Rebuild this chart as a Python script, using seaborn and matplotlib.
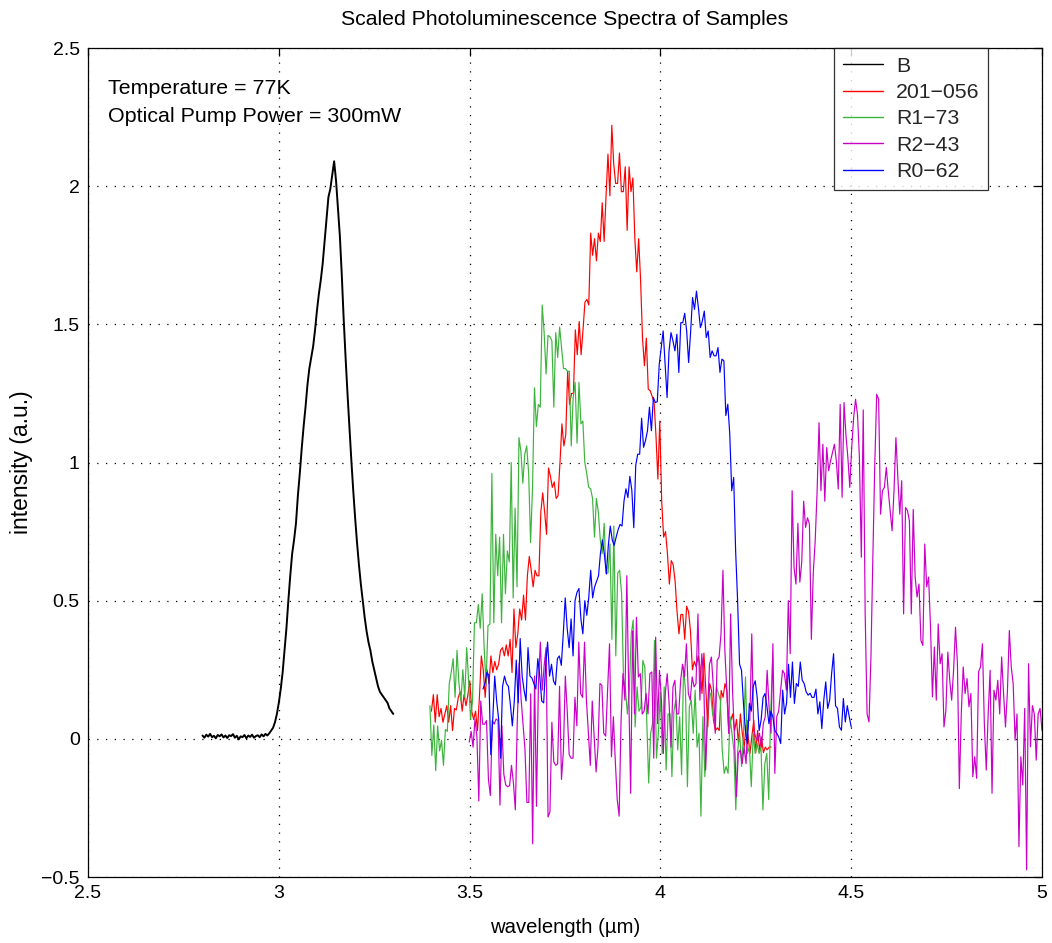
import numpy as np
import pandas as pd
import matplotlib
matplotlib.use("Agg")
import matplotlib.pyplot as plt
import matplotlib.ticker as mticker
import seaborn as sns

# ---------------- data ----------------
series_names = ["B", "201\u2212056", "R1\u221273", "R2\u221243", "R0\u221262"]
series_colors = ["#000000", "#ff0000", "#3cb43c", "#c800c8", "#0000ff"]

b_range = (2.80, 3.30)
b_values = [
    0.012, 0.004, 0.015, 0.008, 0.018, 0.006, 0.011, 0.002, 0.014, 0.009,
    0.016, 0.005, 0.012, 0.003, 0.013, 0.010, 0.017, 0.004, 0.011, -0.002,
    0.009, 0.006, 0.014, 0.002, 0.012, 0.007, 0.015, 0.004, 0.010, 0.013,
    0.006, 0.016, 0.009, 0.018, 0.012, 0.020,
    0.03, 0.04, 0.06, 0.09, 0.13, 0.18, 0.24, 0.32, 0.40, 0.50,
    0.59, 0.67, 0.72, 0.78, 0.88, 0.96, 1.05, 1.13, 1.20, 1.28,
    1.34, 1.38, 1.42, 1.48, 1.55, 1.61, 1.66, 1.72, 1.80, 1.88,
    1.96, 1.99, 2.04, 2.09, 2.02, 1.92, 1.82, 1.68, 1.52, 1.38,
    1.25, 1.13, 1.01, 0.90, 0.80, 0.71, 0.63, 0.56, 0.50, 0.44,
    0.39, 0.35, 0.32, 0.28, 0.25, 0.22, 0.19, 0.17, 0.16, 0.15,
    0.14, 0.13, 0.11, 0.10, 0.09,
]

r201_range = (3.40, 4.29)
r201_values = [
    0.10, 0.16, 0.06, 0.16, 0.08, 0.11, 0.06, 0.09, 0.12, 0.06,
    0.12, 0.03, 0.11, 0.105, 0.15, 0.17, 0.10, 0.16, 0.12, 0.16,
    0.21, 0.10, 0.07, 0.10, 0.03, 0.15, 0.30, 0.25, 0.15, 0.25,
    0.20, 0.30, 0.24, 0.28, 0.25, 0.27, 0.32, 0.33, 0.30, 0.34,
    0.30, 0.36, 0.24, 0.47, 0.33, 0.38, 0.47, 0.43, 0.52, 0.43,
    0.59, 0.66, 0.61, 0.55, 0.61, 0.59, 0.59, 0.82, 0.89, 0.82,
    0.74, 0.98, 0.95, 0.91, 0.93, 0.87, 0.88, 1.0, 1.14, 1.06,
    1.10,
    1.33, 1.21, 1.25, 1.25, 1.48, 1.39, 1.51, 1.39, 1.48, 1.58,
    1.59, 1.57, 1.83, 1.75, 1.81, 1.73, 1.83, 1.80, 1.94, 1.80,
    1.965, 2.116, 1.965, 2.22, 2.08, 2.01, 2.01, 2.12, 1.98, 1.98,
    2.07, 1.84, 2.07, 1.98, 2.03, 1.81, 1.69, 1.81, 1.66, 1.45,
    1.35, 1.45, 1.265, 1.26, 1.24, 1.22, 1.10, 0.94, 1.15,
    0.86, 0.73, 0.75, 0.67, 0.56, 0.645, 0.63, 0.57, 0.46, 0.38,
    0.45, 0.45, 0.36, 0.48, 0.46, 0.39, 0.25, 0.28, 0.26, 0.30,
    0.26, 0.164, 0.31, 0.175, 0.043, 0.20, 0.175, 0.067, 0.03, 0.04,
    0.03, 0.175, 0.15, 0.20, 0.175, 0.02, 0.067, 0.09, 0.03, 0.07,
    -0.017, 0.09, 0.02, -0.03, 0.05, 0.01, -0.053, 0.01, 0.067, -0.05,
    0.03, -0.04, 0.007, -0.05, -0.03, -0.04, -0.03, -0.03,
]

r173_range = (3.396, 4.294)
r173_values = [
    0.12, -0.06, 0.05, -0.115, 0.047, -0.044, -0.005, -0.096, 0.034, 0.027,
    0.20, 0.24, 0.29, 0.15, 0.32, 0.20, 0.137, 0.25, 0.15, 0.33,
    0.21, 0.07, 0.137, 0.42, 0.42, 0.486, 0.40, 0.525, 0.33, 0.20,
    0.41, 0.415, 0.96, 0.42, 0.74, 0.59, 0.73, 0.42, 0.74, 0.525,
    0.68, 0.64, 1.0, 0.51, 0.835, 0.55, 1.09, 1.04, 0.925, 1.03,
    1.06, 0.96, 0.71, 0.91, 1.27, 1.13, 1.21, 1.20, 1.57, 1.47,
    1.32, 1.46, 1.455, 1.44, 1.20, 1.47, 1.38, 1.49, 1.415, 1.34,
    1.34, 1.33, 1.33, 1.06, 1.235, 1.29, 1.07, 1.29, 1.14, 1.15,
    1.0, 0.96, 0.91, 0.905, 0.87, 0.73, 0.87, 0.82, 0.72,
    0.67, 0.78, 0.60, 0.60, 0.705, 0.36, 0.77, 0.30, 0.60, 0.61,
    0.525, 0.22, 0.176, 0.09, 0.176, 0.38, 0.43, 0.043, 0.188, 0.10,
    0.115, 0.284, 0.26, 0.067, -0.16, 0.02, 0.055, 0.356, -0.07, 0.02,
    0.164, -0.053, 0.188, -0.113, 0.09, 0.09, -0.137, 0.10, 0.14, -0.04,
    0.08, -0.13, 0.26, 0.176, -0.173, 0.115, 0.14, 0.02, 0.176, -0.03,
    0.02, -0.28, 0.08, -0.137, 0.03, 0.164, 0.164, 0.09, 0.067, 0.188,
    0.164, 0.14, -0.04, -0.125, -0.10, -0.125, 0.08, 0.02, -0.04, -0.257,
    -0.04, 0.02, -0.10, 0.02, 0.224, -0.053, -0.03, -0.173, 0.02, -0.053,
    -0.017, -0.053, -0.03, -0.257, -0.09, -0.053, -0.22, 0.09, 0.284,
]

r243_range = (3.499, 5.0)
r243_values = [
    -0.012, 0.027, -0.03, 0.072, 0.008, -0.225, 0.137, 0.053, 0.053, 0.066,
    -0.147, -0.205, 0.066, 0.053, 0.072, 0.066, -0.24, 0.047, -0.128, -0.167,
    -0.173, -0.17, -0.096, -0.16, -0.257, 0.06, 0.273, 0.143, 0.053, -0.037,
    -0.23, -0.23, 0.163, -0.38, 0.227, -0.244, 0.20, 0.35, 0.176, 0.266,
    0.33, -0.283, -0.264, 0.06, -0.083, -0.096, -0.09, 0.19, -0.147, -0.044,
    0.227, 0.10, -0.057, -0.07, -0.07, 0.15, 0.047, 0.35, 0.163, 0.15,
    0.35, 0.137, 0.02, -0.096, 0.137, 0.008, -0.12, -0.03, 0.20,
    0.194, 0.02, 0.01, 0.176, 0.344, -0.065, 0.08, -0.08, -0.22, -0.28,
    0.067, 0.236, 0.14, 0.59, 0.164, -0.197, 0.39, 0.09, 0.44, 0.224,
    0.236, 0.09, 0.10, 0.164, 0.09, 0.236, 0.242, -0.07, 0.368, 0.055,
    0.248, 0.14, -0.053, 0.164, 0.236, 0.128, -0.03, 0.188, 0.212, 0.09,
    0.09, 0.212, 0.27, 0.224, 0.344, 0.164, 0.14, 0.224, 0.188, 0.2,
    0.452, 0.14, 0.308, 0.212, -0.113, 0.09, 0.27, 0.296, 0.188, 0.02,
    0.284, 0.296, 0.38, 0.61, 0.32, 0.176, 0.02, 0.452, 0.176, 0.007,
    -0.21, -0.053, -0.04, -0.09, -0.03, -0.09, 0.067, 0.067, 0.38, 0.03,
    0.007, -0.005, 0.02, -0.03, 0.055, 0.08, 0.248, 0.115, 0.02, 0.344,
    -0.125, 0.08, 0.10, 0.176, 0.248, 0.236, 0.176,
    0.50, 0.308, 0.898, 0.62, 0.56, 0.78, 0.567, 0.64, 0.86, 0.765,
    0.80, 0.777, 0.36, 0.60, 0.717, 0.898, 1.144, 0.898, 1.066, 0.86,
    1.054, 0.97, 1.006, 1.036, 1.066, 1.006, 0.904, 1.21, 0.874, 1.217,
    1.10, 1.018, 0.91, 1.054, 1.162, 1.229, 1.174, 1.018, 0.657, 1.19,
    0.452, 0.09, 0.061, 0.296, 0.657, 0.994, 1.247, 1.229, 0.813, 0.898,
    0.91, 0.982, 0.898, 0.826, 0.753, 0.898, 1.09, 0.946, 0.813, 0.934,
    0.452, 0.837, 0.826, 0.79, 0.452, 0.83, 0.585, 0.513, 0.56, 0.356,
    0.338, 0.705, 0.55, 0.585, 0.404, 0.152, 0.332, 0.14, 0.416, 0.272,
    0.308, 0.043, 0.103, 0.314, 0.212, 0.14, 0.248, 0.404, 0.272, -0.18,
    0.09, 0.26, 0.164, 0.218, 0.116, 0.164, -0.137, -0.065, -0.143, 0.242,
    0.26, 0.344, 0.055, -0.113, 0.09, 0.248, -0.197, 0.176, 0.14, 0.212,
    0.09, 0.296, 0.164, 0.043, 0.17, 0.392, 0.26, 0.20, -0.005, 0.09,
    -0.39, -0.065, -0.167, 0.11, -0.474, 0.272, -0.029, 0.12, 0.09, -0.077,
    0.09, 0.11, 0.03,
]

r062_range = (3.535, 4.50)
r062_values = [
    0.18,
    0.20, 0.24, 0.23, -0.057, 0.072, 0.227, 0.137, 0.072, -0.07, 0.19,
    0.227, 0.20, 0.19, 0.124, 0.047, 0.137, 0.285, 0.13, 0.363, 0.227,
    0.176, 0.137, 0.33, 0.227, 0.22, 0.20, 0.18, 0.29, 0.227, 0.137,
    0.13, 0.266, 0.35, 0.227, 0.27, 0.21, 0.195, 0.29, 0.30, 0.266,
    0.38, 0.51, 0.40, 0.33, 0.434, 0.30, 0.50, 0.53, 0.544, 0.434,
    0.38, 0.50, 0.447, 0.51, 0.61, 0.51, 0.55, 0.57, 0.59, 0.673,
    0.72, 0.667, 0.596, 0.70, 0.77, 0.72, 0.70, 0.73, 0.757, 0.776,
    0.77, 0.86, 0.905, 0.873, 0.95, 0.90, 0.764, 0.99, 1.03,
    1.03, 1.16, 1.055, 1.08, 1.115, 1.20, 1.115, 1.235, 1.217, 1.22,
    1.355, 1.416, 1.476, 1.355, 1.235, 1.404, 1.47, 1.44, 1.404, 1.464,
    1.326, 1.506, 1.506, 1.54, 1.476, 1.362, 1.47, 1.597, 1.554, 1.62,
    1.56, 1.488, 1.512, 1.548, 1.452, 1.476, 1.38, 1.404, 1.386, 1.386,
    1.416, 1.326, 1.374, 1.368, 1.17, 1.211, 1.103, 0.898, 0.946, 0.68,
    0.50, 0.27, 0.248, 0.128, 0.03, -0.017, 0.128, 0.10, 0.19, 0.21,
    0.15, 0.03, 0.067, 0.15, 0.164, 0.116, 0.055, 0.10, 0.08, 0.03,
    0.02, 0.007, -0.017,
    0.176, 0.09, 0.13, 0.27, 0.15, 0.278, 0.128, 0.2, 0.19, 0.278,
    0.212, 0.20, 0.17, 0.158, 0.165, 0.15, 0.15, 0.18, 0.09, 0.134,
    0.037, 0.14, 0.206, 0.11, 0.14, 0.236, 0.308, 0.12, 0.11, 0.043,
    0.031, 0.146, 0.061, 0.12, 0.08, 0.043,
]

x_ticks = [2.5, 3.0, 3.5, 4.0, 4.5, 5.0]
y_ticks = [-0.5, 0.0, 0.5, 1.0, 1.5, 2.0, 2.5]
title_text = "Scaled Photoluminescence Spectra of Samples"
x_label = "wavelength (\u00b5m)"
y_label = "intensity (a.u.)"
notes = ["Temperature = 77K", "Optical Pump Power = 300mW"]

# ---------------- build long table ----------------
ranges = [b_range, r201_range, r173_range, r243_range, r062_range]
values = [b_values, r201_values, r173_values, r243_values, r062_values]
frames = []
for name, (x0, x1), vals in zip(series_names, ranges, values):
    frames.append(pd.DataFrame({
        "wavelength": np.linspace(x0, x1, len(vals)),
        "intensity": vals,
        "sample": name,
    }))
df = pd.concat(frames, ignore_index=True)

# ---------------- style ----------------
sns.set_theme(style="white")
plt.rcParams["font.family"] = ["Liberation Sans", "DejaVu Sans"]
plt.rcParams["axes.unicode_minus"] = True

fig = plt.figure(figsize=(10.52, 9.43), dpi=100)
ax = fig.add_axes([88 / 1052, 1 - 877 / 943, (1042 - 88) / 1052, (877 - 48) / 943])

palette = dict(zip(series_names, series_colors))
for name in series_names:
    sub = df[df["sample"] == name]
    sns.lineplot(data=sub, x="wavelength", y="intensity", color=palette[name],
                 linewidth=1.4 if name == "B" else 0.85, estimator=None,
                 sort=False, ax=ax, label=name)

ax.set_xlim(x_ticks[0], x_ticks[-1])
ax.set_ylim(y_ticks[0], y_ticks[-1])
ax.set_xticks(x_ticks)
ax.set_yticks(y_ticks)
fmt = mticker.FuncFormatter(lambda v, p: ("%g" % v).replace("-", "\u2212"))
ax.xaxis.set_major_formatter(fmt)
ax.yaxis.set_major_formatter(fmt)

ax.grid(True, color="black", linestyle=(0, (1, 6)), linewidth=0.9)
ax.tick_params(direction="in", length=6, width=0.9, top=True, right=True,
               labelsize=14, colors="black", pad=6)
for s in ax.spines.values():
    s.set_color("black")
    s.set_linewidth(0.9)

ax.set_title(title_text, fontsize=15.3, pad=16.5, color="black")
ax.set_xlabel(x_label, fontsize=14.6, labelpad=11, color="black")
ax.set_ylabel(y_label, fontsize=16.5, labelpad=6, color="black")

for i, t in enumerate(notes):
    ax.text(2.553, 2.355 - i * 0.103, t, fontsize=15.4, va="center", ha="left",
            color="black")

leg = ax.legend(loc="upper right", bbox_to_anchor=((988 - 88) / 954, 1.0),
                borderaxespad=0, fontsize=15.3, frameon=True, fancybox=False,
                handlelength=1.9, handletextpad=0.6, labelspacing=0.35,
                borderpad=0.4)
leg.get_frame().set_edgecolor("black")
leg.get_frame().set_linewidth(0.9)
for h in leg.get_lines():
    h.set_linewidth(1.0)

fig.savefig("out.png", dpi=100)
